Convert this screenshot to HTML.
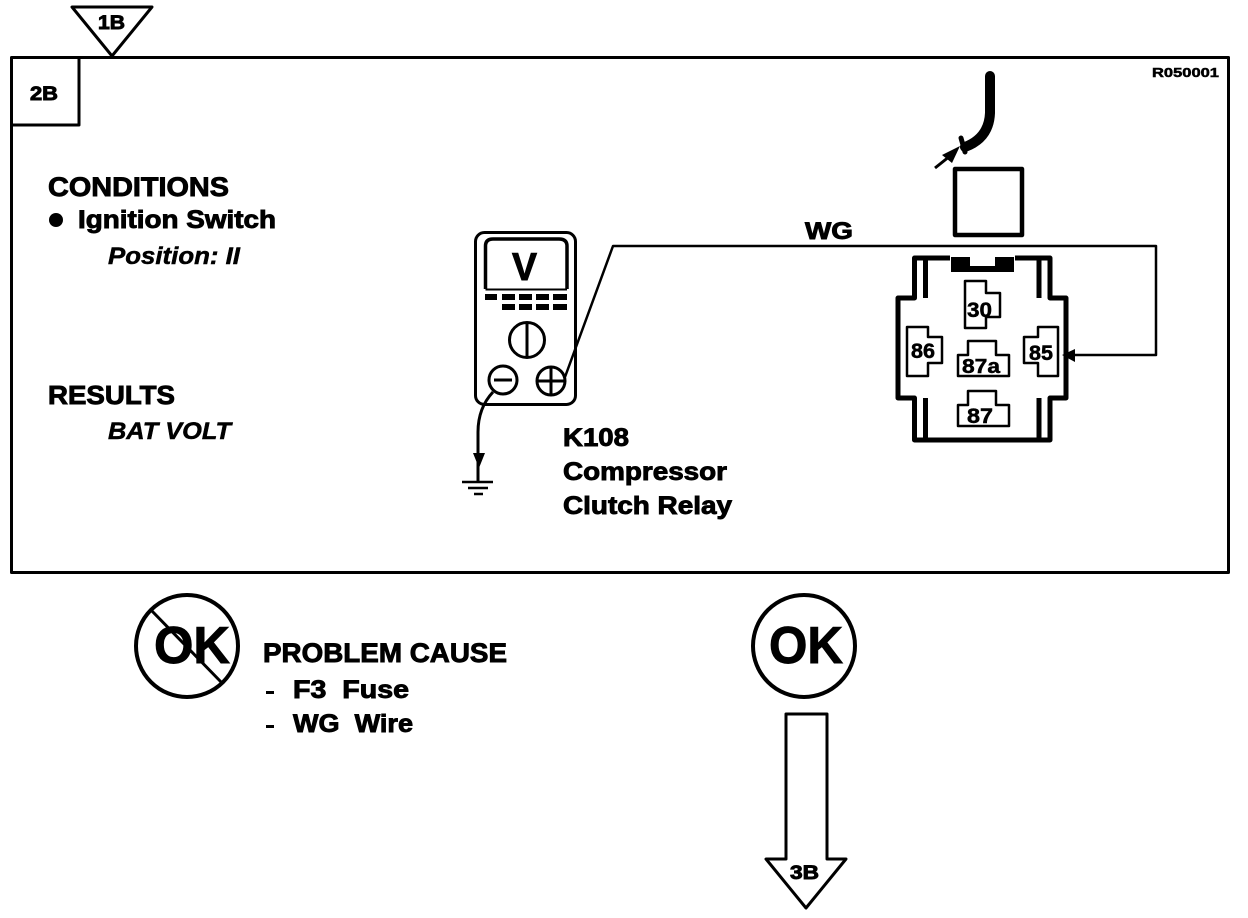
<!DOCTYPE html>
<html><head><meta charset="utf-8"><style>
html,body{margin:0;padding:0;background:#fff;width:1248px;height:918px;overflow:hidden}
svg{display:block}
text{font-family:"Liberation Sans",Arial,sans-serif;font-weight:bold;fill:#000;stroke:#000;stroke-width:.9}
.n{stroke-width:.5}
</style></head><body>
<svg width="1248" height="918" viewBox="0 0 1248 918" xmlns="http://www.w3.org/2000/svg">
<rect width="1248" height="918" fill="#fff"/>
<g fill="none" stroke="#000" stroke-linejoin="round">
<rect x="11.500" y="57.500" width="1217" height="515" stroke-width="3"/>
<path d="M12 125H79V58" stroke-width="3"/>
<path d="M72 7H152L112 56Z" stroke-width="3" fill="#fff"/>
<!-- OK circles -->
<circle cx="187" cy="646" r="51" stroke-width="4"/>
<path d="M151 610L223 684" stroke-width="3"/>
<circle cx="804" cy="646" r="51" stroke-width="4"/>
<!-- Down arrow -->
<path d="M786 714H827V859H846L806 908L766 859H786Z" stroke-width="3"/>
<!-- Meter -->
<rect x="475.500" y="232.500" width="100" height="172" rx="9" stroke-width="3"/>
<path d="M485.500 289V246Q485.500 239 493 239H559Q567 239 567 246V289" stroke-width="3.500"/>
<path d="M485.500 289.500H567" stroke-width="2"/>
<circle cx="527" cy="340" r="17.500" stroke-width="3"/>
<path d="M527 323V357" stroke-width="3"/>
<circle cx="503" cy="380" r="14" stroke-width="3"/>
<path d="M494 380H512" stroke-width="3"/>
<circle cx="551" cy="381" r="14" stroke-width="3"/>
<path d="M537 381H565M551 367V395" stroke-width="3"/>
<!-- Wires -->
<path d="M565 377L613 246H1156V355H1068" stroke-width="2.500"/>
<path d="M493 392Q478 408 478 432V482" stroke-width="3"/>
<path d="M462 482H493M468 488H488M474 494H483" stroke-width="2.500"/>
<!-- Connector wire -->
<path d="M990 76V113Q989 138 965 147" stroke-width="10" stroke-linecap="round"/>
<path d="M961 138L965 152" stroke-width="5" stroke-linecap="round"/>
<path d="M935 168L950 156" stroke-width="3"/>
<rect x="955" y="169" width="67" height="66" stroke-width="4.500"/>
<!-- Relay -->
<path d="M950 258H914.500V298H898V398H914.500V440H1050V398H1066V298H1050V258H1015" stroke-width="5"/>
<path d="M925.500 258V298M1039 258V298M925.500 398V440M1039 398V440" stroke-width="5"/>
<path d="M965 281H986V293H1000V317H986V328H965Z" stroke-width="2.500"/>
<path d="M907 327H928V337H942V363H928V376H907Z" stroke-width="2.500"/>
<path d="M1038 327H1058V376H1038V363H1024V337H1038Z" stroke-width="2.500"/>
<path d="M968 341H996V355H1009V376H958V355H968Z" stroke-width="2.500"/>
<path d="M968 391H996V405H1009V426H958V405H968Z" stroke-width="2.500"/>
</g>
<g fill="#000">
<path d="M951 257H970V266H995V257H1014V272H951Z"/>
<path d="M1062 355L1075 349V362Z"/>
<path d="M960 146L942 155L952 163Z"/>
<path d="M473 453H485L479 468Z"/>
<circle cx="56" cy="220" r="7"/>
<rect x="485" y="294" width="12" height="6"/>
<rect x="502" y="294" width="13" height="6"/><rect x="519" y="294" width="13" height="6"/><rect x="536" y="294" width="13" height="6"/><rect x="553" y="294" width="14" height="6"/>
<rect x="502" y="304" width="13" height="6"/><rect x="519" y="304" width="13" height="6"/><rect x="536" y="304" width="13" height="6"/><rect x="553" y="304" width="14" height="6"/>
<rect x="266" y="691" width="8" height="3"/><rect x="266" y="725" width="8" height="3"/>
</g>
<text x="98" y="29" font-size="19" textLength="27" lengthAdjust="spacingAndGlyphs">1B</text>
<text x="30" y="100" font-size="19" textLength="28" lengthAdjust="spacingAndGlyphs">2B</text>
<text x="1152" y="77" font-size="13" class="n" textLength="67" lengthAdjust="spacingAndGlyphs">R050001</text>
<text x="48" y="196" font-size="27" textLength="181" lengthAdjust="spacingAndGlyphs">CONDITIONS</text>
<text x="78" y="228" font-size="25" textLength="198" lengthAdjust="spacingAndGlyphs">Ignition Switch</text>
<text x="108" y="264" font-size="24" class="n" style="font-style:italic" textLength="132" lengthAdjust="spacingAndGlyphs">Position: II</text>
<text x="48" y="404" font-size="26" textLength="127" lengthAdjust="spacingAndGlyphs">RESULTS</text>
<text x="108" y="439" font-size="24" class="n" style="font-style:italic" textLength="123" lengthAdjust="spacingAndGlyphs">BAT VOLT</text>
<text x="512" y="280" font-size="39" textLength="25" lengthAdjust="spacingAndGlyphs">V</text>
<text x="805" y="239" font-size="24" textLength="48" lengthAdjust="spacingAndGlyphs">WG</text>
<text x="563" y="446" font-size="25" textLength="66" lengthAdjust="spacingAndGlyphs">K108</text>
<text x="563" y="480" font-size="25" textLength="164" lengthAdjust="spacingAndGlyphs">Compressor</text>
<text x="563" y="514" font-size="25" textLength="169" lengthAdjust="spacingAndGlyphs">Clutch Relay</text>
<text x="154" y="663" font-size="52" textLength="76" lengthAdjust="spacingAndGlyphs">OK</text>
<text x="769" y="663" font-size="52" textLength="74" lengthAdjust="spacingAndGlyphs">OK</text>
<text x="263" y="662" font-size="27" textLength="244" lengthAdjust="spacingAndGlyphs">PROBLEM CAUSE</text>
<text x="293" y="698" font-size="25" textLength="116" lengthAdjust="spacingAndGlyphs" xml:space="preserve">F3  Fuse</text>
<text x="293" y="732" font-size="25" textLength="120" lengthAdjust="spacingAndGlyphs" xml:space="preserve">WG  Wire</text>
<text x="790" y="879" font-size="19" textLength="29" lengthAdjust="spacingAndGlyphs">3B</text>
<text x="967" y="317" font-size="21" class="n" textLength="25" lengthAdjust="spacingAndGlyphs">30</text>
<text x="911" y="358" font-size="21" class="n" textLength="24" lengthAdjust="spacingAndGlyphs">86</text>
<text x="1029" y="360" font-size="21" class="n" textLength="24" lengthAdjust="spacingAndGlyphs">85</text>
<text x="962" y="373" font-size="20" class="n" textLength="38" lengthAdjust="spacingAndGlyphs">87a</text>
<text x="967" y="423" font-size="21" class="n" textLength="26" lengthAdjust="spacingAndGlyphs">87</text>
</svg>
</body></html>
